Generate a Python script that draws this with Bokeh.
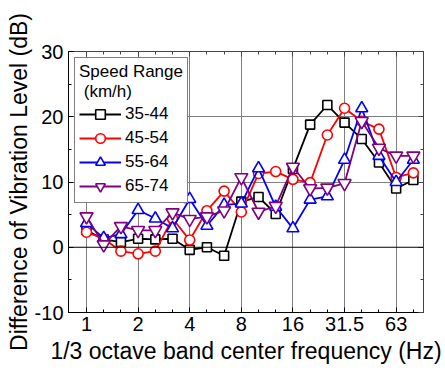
from bokeh.plotting import figure
from bokeh.models import FixedTicker, LinearAxis, Span, Legend, LegendItem, Range1d
from bokeh.embed import file_html
from bokeh.resources import INLINE

# 1/3 octave band centre frequencies (Hz)
bands = ["1", "1.25", "1.6", "2", "2.5", "3.15", "4", "5", "6.3", "8",
         "10", "12.5", "16", "20", "25", "31.5", "40", "50", "63", "80"]
tick_labels = ["1", "2", "4", "8", "16", "31.5", "63"]

# Difference of vibration level (dB) per speed range (km/h)
s35_44 = [2.6, 1.2, 0.8, 1.3, 1.2, 1.3, -0.4, 0.0, -1.3, 7.0,
          7.7, 5.1, 12.0, 18.8, 21.8, 19.1, 16.6, 13.0, 9.0, 10.3]
s45_54 = [2.3, 1.3, -0.6, -1.0, -0.6, 4.4, 1.1, 5.6, 8.6, 5.4,
          11.3, 11.6, 10.4, 9.9, 17.2, 21.3, 19.3, 18.1, 10.7, 11.4]
s55_64 = [3.7, 1.4, 2.0, 5.7, 4.4, 2.9, 7.4, 3.3, 6.5, 6.7,
          12.1, 6.2, 2.9, 7.3, 7.8, 13.4, 21.3, 14.0, 10.0, 13.4]
s65_74 = [4.7, 0.4, 3.2, 2.6, 2.6, 5.3, 4.3, 4.7, 5.6, 10.7,
          5.4, 6.3, 12.3, 9.0, 9.1, 9.8, 19.3, 15.2, 14.0, 14.0]

series_names = ["35-44", "45-54", "55-64", "65-74"]
series_vals = [s35_44, s45_54, s55_64, s65_74]
colors = ["#000000", "#FF0000", "#0000FF", "#800080"]
markers = ["square", "circle", "triangle", "inverted_triangle"]
msizes = [9, 10, 12, 13]

y_ticks = [-10, 0, 10, 20, 30]
y_minor = [-5, 5, 15, 25]

FONT = "Liberation Sans"

x = list(range(len(bands)))
major_idx = [bands.index(t) for t in tick_labels]

p = figure(width=445, height=370,
           x_range=Range1d(-1.047, 19.59), y_range=Range1d(-10, 30),
           output_backend="svg", toolbar_location=None,
           min_border_left=68, min_border_right=22,
           min_border_top=51, min_border_bottom=58)
p.background_fill_color = "white"
p.outline_line_color = "black"
p.outline_line_width = 1

# bottom axis
xa = p.xaxis[0]
xa.ticker = FixedTicker(ticks=major_idx, minor_ticks=x)
xa.major_label_overrides = {i: t for i, t in zip(major_idx, tick_labels)}
xa.axis_label = "1/3 octave band center frequency (Hz)"
# left axis
ya = p.yaxis[0]
ya.ticker = FixedTicker(ticks=y_ticks, minor_ticks=y_minor)
ya.major_label_overrides = {v: str(v) for v in y_ticks}
ya.axis_label = "Difference of Vibration Level (dB)"

for ax in (xa, ya):
    ax.axis_label_text_font = FONT
    ax.axis_label_text_font_size = "23px"
    ax.axis_label_text_font_style = "normal"
    ax.axis_label_text_color = "black"
    ax.major_label_text_font = FONT
    ax.major_label_text_font_size = "20px"
    ax.major_label_text_color = "black"
    ax.major_tick_in = 5
    ax.major_tick_out = 0
    ax.minor_tick_in = 3
    ax.minor_tick_out = 0
    ax.axis_line_color = "black"
    ax.major_tick_line_color = "black"
    ax.minor_tick_line_color = "black"
xa.major_label_standoff = 4
xa.axis_label_standoff = 4
ya.major_label_standoff = 5
ya.axis_label_standoff = 0

# top and right frame axes (ticks only)
top = LinearAxis(ticker=FixedTicker(ticks=major_idx, minor_ticks=x))
right = LinearAxis(ticker=FixedTicker(ticks=y_ticks, minor_ticks=y_minor))
for ax in (top, right):
    ax.major_label_text_font_size = "0px"
    ax.major_label_text_color = None
    ax.major_label_standoff = 0
    ax.major_tick_in = 5
    ax.major_tick_out = 0
    ax.minor_tick_in = 3
    ax.minor_tick_out = 0
    ax.axis_line_color = "#444444"
    ax.major_tick_line_color = "#444444"
    ax.minor_tick_line_color = "#444444"
p.add_layout(top, "above")
p.add_layout(right, "right")

# grid
p.xgrid.ticker = FixedTicker(ticks=major_idx)
p.xgrid.grid_line_color = "#7f7f7f"
p.xgrid.grid_line_width = 1
p.ygrid.ticker = FixedTicker(ticks=[10, 20])
p.ygrid.grid_line_color = "#7f7f7f"
p.ygrid.grid_line_width = 1
p.add_layout(Span(location=0, dimension="width", line_color="black", line_width=1))

items = []
for name, vals, c, m, ms in zip(series_names, series_vals, colors, markers, msizes):
    ln = p.line(x, vals, line_color=c, line_width=1.8)
    sc = p.scatter(x, vals, marker=m, size=ms, line_color=c, line_width=1.6,
                   fill_color="white")
    items.append(LegendItem(label=name, renderers=[ln, sc]))

legend = Legend(items=items, location="top_left", title="Speed Range\n (km/h)")
legend.title_text_font = FONT
legend.title_text_font_size = "17px"
legend.title_text_font_style = "normal"
legend.title_text_color = "black"
legend.title_text_line_height = 1.15
legend.title_standoff = -5
legend.label_text_font = FONT
legend.label_text_font_size = "17px"
legend.label_text_color = "black"
legend.label_text_line_height = 1.0
legend.label_height = 16
legend.glyph_width = 42
legend.glyph_height = 24
legend.label_standoff = 4
legend.spacing = -2
legend.padding = 4
legend.margin = 6
legend.border_line_color = "black"
legend.border_line_width = 1
legend.background_fill_alpha = 1
p.add_layout(legend)

open("out.html", "w").write(file_html(p, INLINE))
